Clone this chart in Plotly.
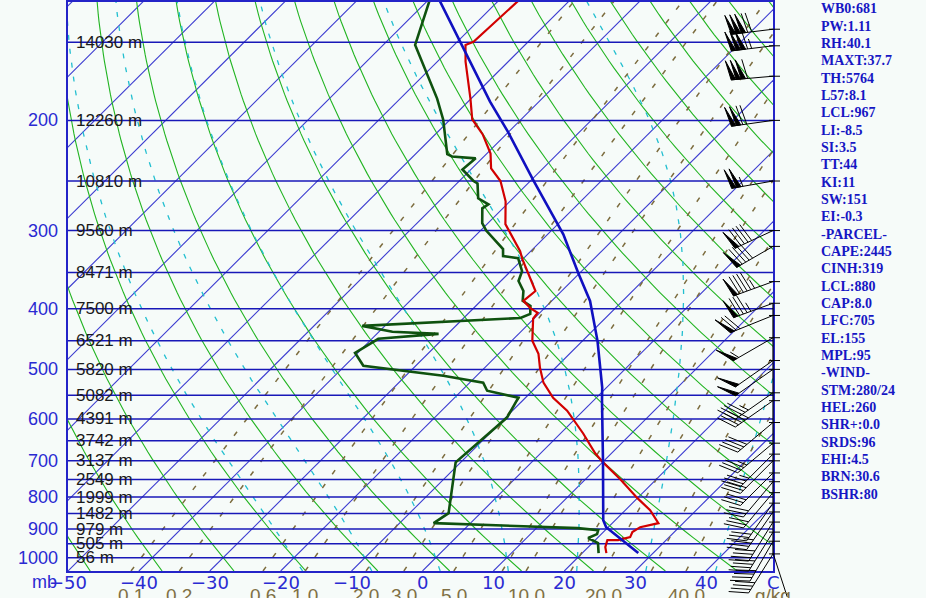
import math
import numpy as np
import plotly.graph_objects as go

# ---------------- data ----------------
temp_p = [983, 961.6, 937, 937, 927, 910, 893.6, 887, 880.5, 839.5, 803, 749, 704, 681, 633, 582, 555,
          525, 497, 472, 450, 415, 406, 399, 388.6, 374.7, 333, 323.6, 300, 293, 269.4, 262.6, 250,
          238.7, 225.9, 210.6, 199.3, 184.6, 161.2, 151.5, 149.8, 125]
temp_t = [23.4, 22.4, 21.7, 23.2, 24.5, 24.1, 24.5, 25.6, 26.5, 23.5, 20.0, 14.9, 10.1, 7.7, 3.2, -2.3, -6.1,
          -9.6, -12.2, -14.4, -17.1, -20.1, -20.3, -22.0, -24.0, -23.7, -30.1, -31.5, -36.0, -37.4, -40.6, -41.8, -44.2,
          -47.3, -49.5, -53.3, -56.9, -60.1, -66.0, -68.4, -67.7, -67.1]

dewp_p = [983, 947.5, 930, 916.8, 903.4, 896.8, 880.5, 848.8, 704, 614.8, 597, 555, 540.8, 525, 511.8,
          493.3, 470.4, 446.8, 438.7, 435.4, 426, 413.8, 407.6, 395.8, 388.6, 374.7, 361.2, 348.3, 332,
          329.6, 321.2, 300, 292, 276.4, 272.4, 266.4, 252.2, 250, 239.6, 230, 228.4, 226.5, 199.3,
          184.6, 168.5, 151.5, 125]
dewp_t = [22.3, 20.8, 18.7, 19.4, 19.0, 15.8, -5.2, -4.5, -10.7, -10.0, -9.8, -11.0, -16.4, -18.1, -24.7,
          -37.4, -40.4, -39.1, -31.3, -38.1, -43.2, -22.0, -21.2, -22.3, -24.1, -25.4, -27.5, -28.4, -30.8,
          -33.2, -34.2, -39.2, -40.8, -42.9, -42.6, -44.9, -47.1, -48.0, -51.2, -50.9, -54.5, -55.5, -61.0,
          -64.8, -69.7, -75.5, -80.5]

parcel_p = [983, 893.6, 870.9, 809.4, 698.9, 560.9, 534.8, 450.1, 388.6, 350.8, 304.1, 250, 208.3, 186.7, 149.8, 125]
parcel_t = [27.9, 19.7, 18.3, 15.5, 9.8, 1.2, -0.6, -7.9, -14.6, -20.2, -27.8, -39.5, -50.2, -56.9, -69.6, -80.0]

wind_p = [143, 152, 170, 200, 250, 300, 318, 362, 392, 410, 445, 484, 500, 545, 561, 608, 656, 683,
          700, 732, 756, 787, 818, 845, 877, 910, 941, 986]
wind_dir = [263, 263, 265, 262, 260, 245, 240, 250, 250, 248, 240, 235, 235, 235, 235, 230, 230, 225,
            225, 225, 220, 220, 215, 215, 212, 212, 210, 212]
wind_spd = [170, 165, 160, 120, 105, 90, 90, 95, 85, 70, 55, 50, 50, 45, 45, 40, 35, 35,
            30, 30, 30, 30, 30, 35, 40, 40, 40, 40]
sfc_wind = (983, 162, 0)

height_p = [150, 200, 250, 300, 350, 400, 450, 500, 550, 600, 650, 700, 750, 800, 850, 900, 950, 1000]
height_lbl = ["14030 m", "12260 m", "10810 m", "9560 m", "8471 m", "7500 m", "6521 m", "5820 m",
              "5082 m", "4391 m", "3742 m", "3137 m", "2549 m", "1999 m", "1482 m", "979 m", "505 m", "56 m"]
pres_ticks = [200, 300, 400, 500, 600, 700, 800, 900, 1000]
temp_ticks = [-50, -40, -30, -20, -10, 0, 10, 20, 30, 40]
mix_lines = [0.1, 0.2, 0.6, 1, 2, 3, 5, 8, 10, 15, 20, 30, 40]
mix_labels = ["0.1", "0.2", "0.6", "1.0", "2.0", "3.0", "5.0", "10.0", "20.0", "40.0"]
moist_t1000 = [-20, -10, 0, 10, 20, 30, 40]
dry_theta = list(range(-50, 180, 10))
iso_t = list(range(-130, 60, 10))

stats = ["WB0:681", "PW:1.11", "RH:40.1", "MAXT:37.7", "TH:5764", "L57:8.1", "LCL:967", "LI:-8.5",
         "SI:3.5", "TT:44", "KI:11", "SW:151", "EI:-0.3", "-PARCEL-", "CAPE:2445", "CINH:319",
         "LCL:880", "CAP:8.0", "LFC:705", "EL:155", "MPL:95", "-WIND-", "STM:280/24", "HEL:260",
         "SHR+:0.0", "SRDS:96", "EHI:4.5", "BRN:30.6", "BSHR:80"]

# ---------------- geometry ----------------
W, H = 926, 598
ML, MR, MT, MB = 68, 153, 0, 27
PW = W - ML - MR
PH = H - MT - MB
P_BOT = 1050.0
PX_PER_C = 7.09
PX_PER_LN = 272.7
SKEW = PX_PER_LN / PX_PER_C
X0 = -50.0
X1 = X0 + PW / PX_PER_C
LOG_BOT = math.log10(P_BOT)
LOG_TOP = LOG_BOT - PH / PX_PER_LN / math.log(10)
P_TOP = 120.0

BLUE_TXT = "#2a2ad2"
BG = "#f6fbf9"


def skx(t, p):
    return np.asarray(t, float) + SKEW * np.log(P_BOT / np.asarray(p, float))


def yfrac(p):
    return PX_PER_LN * math.log(P_BOT / p) / PH


grid_p = np.geomspace(P_BOT, P_TOP, 90)


def joined(lines):
    xs, ys = [], []
    for x, y in lines:
        xs += list(x) + [None]
        ys += list(y) + [None]
    return xs, ys


def moist_profile(t1000):
    Rd, Cp, Lv, eps = 287.04, 1005.7, 2.501e6, 0.622

    def es(tc):
        return 6.112 * math.exp(17.67 * tc / (tc + 243.5))

    def f(p, T):
        e = es(T - 273.15)
        rs = eps * e / (p - e)
        return (Rd * T + Lv * rs) / p / (Cp + Lv * Lv * rs * eps / (Rd * T * T))

    def integ(p0, T0, p1, n):
        ps, Ts = [p0], [T0]
        h = (p1 - p0) / n
        p, T = p0, T0
        for _ in range(n):
            k1 = f(p, T)
            k2 = f(p + h / 2, T + h / 2 * k1)
            k3 = f(p + h / 2, T + h / 2 * k2)
            k4 = f(p + h, T + h * k3)
            T += h / 6 * (k1 + 2 * k2 + 2 * k3 + k4)
            p += h
            ps.append(p)
            Ts.append(T)
        return ps, Ts

    pu, Tu = integ(1000.0, t1000 + 273.15, P_TOP, 176)
    pd, Td = integ(1000.0, t1000 + 273.15, P_BOT, 10)
    ps = pd[::-1] + pu[1:]
    Ts = np.array(Td[::-1] + Tu[1:]) - 273.15
    return np.array(ps), Ts


def mix_td(w, p):
    e = w * np.asarray(p) / (622.0 + w)
    l = np.log(e / 6.112)
    return 243.5 * l / (17.67 - l)


fig = go.Figure()


def add_lines(xs, ys, color, width, dash="solid"):
    fig.add_trace(go.Scatter(x=xs, y=ys, mode="lines", hoverinfo="skip", showlegend=False,
                             line=dict(color=color, width=width, dash=dash)))


# isotherms
iso = [(skx([t, t], [P_BOT, P_TOP]), [P_BOT, P_TOP]) for t in iso_t]
add_lines(*joined(iso), "#3c3cd0", 1.1)

# dry adiabats
dry = []
for th in dry_theta:
    tk = (th + 273.15) * (grid_p / 1000.0) ** 0.2857 - 273.15
    dry.append((skx(tk, grid_p), grid_p))
add_lines(*joined(dry), "#22b422", 1.1)

# moist adiabats
moist = []
for t0 in moist_t1000:
    ps, ts = moist_profile(t0)
    moist.append((skx(ts, ps), ps))
add_lines(*joined(moist), "#22bfd0", 1.3, "5px,9px")

# mixing ratio lines
mix = []
for w in mix_lines:
    td = mix_td(w, grid_p)
    mix.append((skx(td, grid_p), grid_p))
add_lines(*joined(mix), "#7c6c3e", 1.5, "5px,12px")

# isobars
iso_p = list(range(150, 1050, 50))
isob = [([X0 - 5, X1 + 5], [p, p]) for p in iso_p]
add_lines(*joined(isob), "#1818b8", 1.5)

# profiles
add_lines(list(skx(dewp_t, dewp_p)), dewp_p, "#0f520f", 2.6)
add_lines(list(skx(temp_t, temp_p)), temp_p, "#d20000", 2.2)
add_lines(list(skx(parcel_t, parcel_p)), parcel_p, "#1010c0", 2.6)

# ---------------- annotations ----------------
ann = []
for p, txt in zip(height_p, height_lbl):
    ann.append(dict(x=X0, xref="x", y=math.log10(p), yref="y", text=txt, showarrow=False,
                    xanchor="left", yanchor="middle", xshift=6,
                    font=dict(family="Liberation Sans, Arial", size=17, color="#1a1a1a")))
for p in pres_ticks:
    ann.append(dict(x=0, xref="paper", y=math.log10(p), yref="y", text=str(p), showarrow=False,
                    xanchor="right", yanchor="middle", xshift=-8,
                    font=dict(family="Liberation Sans, Arial", size=18, color=BLUE_TXT)))
for t in temp_ticks:
    lbl = ("\u2212" + str(-t)) if t < 0 else str(t)
    ann.append(dict(x=t, xref="x", y=0, yref="paper", text=lbl, showarrow=False,
                    xanchor="center", yanchor="middle", yshift=-11,
                    font=dict(family="DejaVu Sans", size=18, color=BLUE_TXT)))
ann.append(dict(x=X1, xref="x", y=0, yref="paper", text="C", showarrow=False,
                xanchor="center", yanchor="middle", yshift=-11,
                font=dict(family="DejaVu Sans", size=18, color=BLUE_TXT)))
ann.append(dict(x=0, xref="paper", y=0, yref="paper", text="mb", showarrow=False,
                xanchor="right", yanchor="middle", yshift=-11, xshift=-9,
                font=dict(family="Liberation Sans, Arial", size=18, color=BLUE_TXT)))
for lbl in mix_labels:
    w = float(lbl)
    ann.append(dict(x=float(mix_td(w, P_BOT)), xref="x", y=0, yref="paper", text=lbl, showarrow=False,
                    xanchor="center", yanchor="top", yshift=-12,
                    font=dict(family="Liberation Sans, Arial", size=19, color="#807044")))
ann.append(dict(x=X1, xref="x", y=0, yref="paper", text="g/kg", showarrow=False,
                xanchor="center", yanchor="top", yshift=-12,
                font=dict(family="Liberation Sans, Arial", size=19, color="#807044")))

STAT_X = (819 - ML) / PW
for i, s in enumerate(stats):
    yc = 7 + 17.39 * i
    ann.append(dict(x=STAT_X, xref="paper", y=(PH - yc) / PH, yref="paper", text="<b>" + s + "</b>",
                    showarrow=False, xanchor="left", yanchor="middle",
                    font=dict(family="Liberation Serif, Times New Roman", size=14, color="#1616c4")))

# ---------------- wind barbs ----------------
def barb_path(d, spd, L=42.0, F=20.0, gap=4.0, fw=4.5, rot=-78.0, tick=True):
    a = math.radians(d)
    ux, uy = math.sin(a), math.cos(a)
    c, s = math.cos(math.radians(rot)), math.sin(math.radians(rot))
    fx, fy = ux * c - uy * s, ux * s + uy * c
    segs = []
    if tick:
        segs.append("M -4,0 L 7,0")
    segs.append("M 0,0 L %.2f,%.2f" % (L * ux, L * uy))
    n_flag = int(spd // 50)
    rem = spd - 50 * n_flag
    n_barb = int(rem // 10)
    half = (rem - 10 * n_barb) >= 5
    pos = L
    for _ in range(n_flag):
        ax, ay = pos * ux, pos * uy
        bx, by = (pos - fw) * ux, (pos - fw) * uy
        segs.append("M %.2f,%.2f L %.2f,%.2f L %.2f,%.2f Z" % (ax, ay, ax + F * fx, ay + F * fy, bx, by))
        pos -= fw + 0.5
    if n_flag:
        pos -= 1.5
    for _ in range(n_barb):
        ax, ay = pos * ux, pos * uy
        segs.append("M %.2f,%.2f L %.2f,%.2f" % (ax, ay, ax + F * fx, ay + F * fy))
        pos -= gap
    if half:
        if n_flag == 0 and n_barb == 0:
            pos -= gap
        ax, ay = pos * ux, pos * uy
        segs.append("M %.2f,%.2f L %.2f,%.2f" % (ax, ay, ax + F / 2 * fx, ay + F / 2 * fy))
    return " ".join(segs)


shapes = []
for p, d, v in zip(wind_p, wind_dir, wind_spd):
    low = p > 400
    shapes.append(dict(type="path", xref="paper", yref="paper", xsizemode="pixel", ysizemode="pixel",
                       xanchor=1.0, yanchor=yfrac(p),
                       path=barb_path(d, v, L=46 if low else 42, rot=-62 if low else -78),
                       line=dict(color="black", width=1), fillcolor="black", layer="above"))
sp, sd, sv = sfc_wind
shapes.append(dict(type="path", xref="paper", yref="paper", xsizemode="pixel", ysizemode="pixel",
                   xanchor=1.0, yanchor=yfrac(sp), path=barb_path(sd, sv, L=46, tick=False),
                   line=dict(color="black", width=1), fillcolor="black", layer="above"))
shapes.append(dict(type="line", xref="paper", yref="paper", x0=1, x1=1,
                   y0=yfrac(wind_p[-1]), y1=yfrac(wind_p[8]), line=dict(color="black", width=1.2),
                   layer="above"))

fig.update_layout(
    width=W, height=H, autosize=False,
    margin=dict(l=ML, r=MR, t=MT, b=MB, pad=0),
    paper_bgcolor=BG, plot_bgcolor=BG,
    showlegend=False,
    xaxis=dict(range=[X0, X1], showgrid=False, zeroline=False, showticklabels=False, ticks="",
               showline=True, linecolor="#2424c8", linewidth=1.5, mirror=True, fixedrange=True),
    yaxis=dict(type="log", range=[LOG_BOT, LOG_TOP], showgrid=False, zeroline=False,
               showticklabels=False, ticks="", showline=True, linecolor="#2424c8", linewidth=1.5,
               mirror=True, fixedrange=True),
    annotations=ann,
    shapes=shapes,
)

fig.write_html("out.html", config={"displayModeBar": False},
               post_script="document.body.style.margin='0px';document.body.style.background='" + BG + "';")
